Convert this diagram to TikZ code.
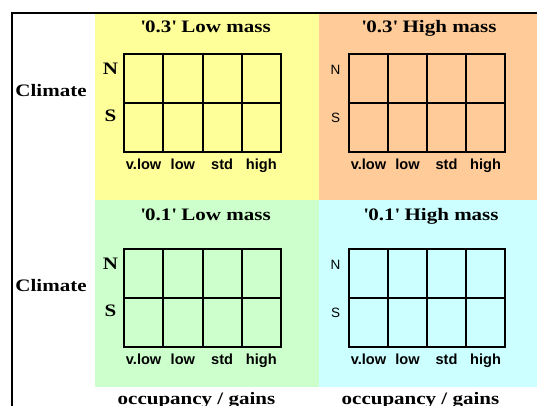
\documentclass[tikz,border=0pt]{standalone}
\usepackage{fontspec}
\newfontfamily\arialfont{Liberation Sans}
\newfontfamily\timeswide[FakeStretch=1.2]{Liberation Serif Bold}
\usetikzlibrary{positioning}
\definecolor{lowtop}{HTML}{FFFF99}
\definecolor{hightop}{HTML}{FFCC99}
\definecolor{lowbot}{HTML}{CCFFCC}
\definecolor{highbot}{HTML}{CCFFFF}
\newcommand{\massq}[1]{\textquotesingle#1\textquotesingle}

\begin{document}
\begin{tikzpicture}[x=1pt,y=-1pt,
  serifbold/.style={font=\fontsize{17.5}{20}\selectfont\timeswide,inner sep=0pt,anchor=base},
  colsans/.style={font=\fontsize{14.6}{16}\selectfont\arialfont\bfseries,inner sep=0pt,anchor=base},
  rowserif/.style={serifbold},
  rowsans/.style={font=\fontsize{13.5}{15}\selectfont\arialfont,inner sep=0pt,anchor=base},
  gridline/.style={line width=2pt}]
\useasboundingbox (0,0) rectangle (537,405);
\fill[white] (0,0) rectangle (537,405);

% the four panels
\fill[lowtop] (95,14) rectangle (319,200);
\fill[hightop] (319,14) rectangle (537,200);
\fill[lowbot] (95,200) rectangle (319,387);
\fill[highbot] (319,200) rectangle (537,387);
\draw[line width=2pt] (12,406) -- (12,13) -- (538,13);

% grids, titles and labels
\foreach \gx/\gy/\gw/\tx/\ty/\ttl/\rs/\rn/\pn in {
  124/54/157/205.5/32.3/{\massq{0.3} Low mass}/rowserif/0/lt,
  349/54/156/429/32.3/{\massq{0.3} High mass}/rowsans/1.2/ht,
  124/249/157/205.5/220/{\massq{0.1} Low mass}/rowserif/0/lb,
  349/249/156/431/220/{\massq{0.1} High mass}/rowsans/1.2/hb}{
  \draw[gridline] (\gx,\gy) rectangle +(\gw,98);
  \foreach \i in {1,2,3}
    \draw[gridline] (\gx+\i*\gw/4,\gy) -- +(0,98);
  \draw[gridline] (\gx,\gy+49) -- +(\gw,0);
  \node[serifbold] (title-\pn) at (\tx,\ty) {\ttl};
  \node[\rs] (N-\pn) at (\gx-13.5,\gy+20.3+\rn/2) {N};
  \node[\rs] (S-\pn) at (\gx-13.5,\gy+67.7+\rn) {S};
  \foreach \lab [count=\i] in {v.low,low,std,high}
    \node[colsans] (col\i-\pn) at (\gx+\i*\gw/4-\gw/8,\gy+115.5) {\lab};
}

\node[serifbold] (climate-top) at (51,96.5) {Climate};
\node[serifbold] (climate-bot) at (51,291.5) {Climate};
\node[serifbold] (occ-low) at (196.5,404.5) {occupancy / gains};
\node[serifbold] (occ-high) at (420.5,404.5) {occupancy / gains};

\end{tikzpicture}
\end{document}
